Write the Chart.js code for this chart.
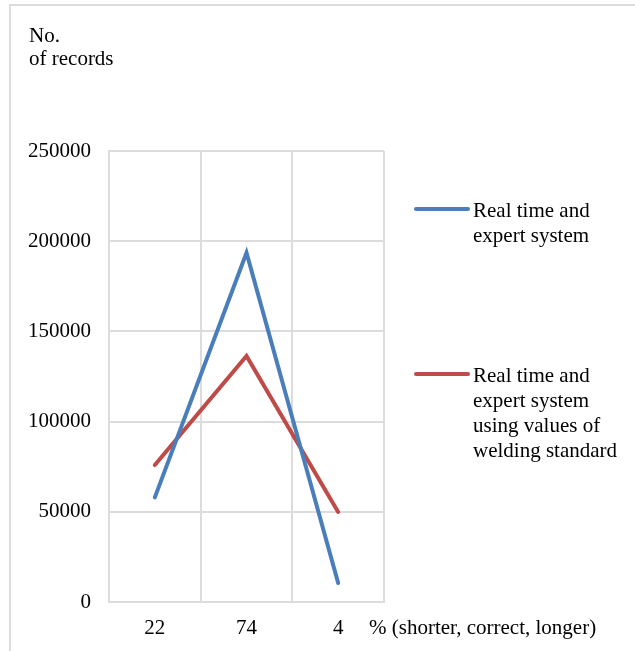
<!DOCTYPE html>
<html>
<head>
<meta charset="utf-8">
<script src="https://cdn.jsdelivr.net/npm/chart.js@4.4.1/dist/chart.umd.min.js"></script>
<style>
  body { margin: 0; background: #fff; }
  #frame {
    position: absolute; left: 9px; top: 4px; width: 700px; height: 700px;
    border-top: 2px solid #dcdcdc; border-left: 2px solid #dcdcdc;
  }
  #myChart { position: absolute; left: 0; top: 0; }
</style>
</head>
<body>
<div id="frame"></div>
<canvas id="myChart" width="635" height="651"></canvas>
<script>
const categories = ['22', '74', '4'];
const realTime = [58000, 193600, 10500];
const realTimeStandard = [75900, 136400, 49900];
const legendLines = [
    ['Real time and', 'expert system'],
    ['Real time and', 'expert system', 'using values of', 'welding standard']
];
const yTitle = ['No.', 'of records'];
const xTitle = '% (shorter, correct, longer)';
const FONT = "'Liberation Serif', 'Times New Roman', serif";

const textPlugin = {
    id: 'textPlugin',
    afterDraw(chart) {
        const ctx = chart.ctx;
        const area = chart.chartArea;
        ctx.save();
        ctx.fillStyle = '#000';
        ctx.font = '21px ' + FONT;
        ctx.textBaseline = 'alphabetic';
        ctx.textAlign = 'left';
        // y title
        ctx.fillText(yTitle[0], 29, 42);
        ctx.fillText(yTitle[1], 29, 65);
        // x title, next to the last tick label
        ctx.fillText(xTitle, area.right - 15, 634);
        // legend
        const tops = [209, 374];
        chart.data.datasets.forEach((ds, i) => {
            const y = tops[i];
            ctx.strokeStyle = ds.borderColor;
            ctx.lineWidth = 4;
            ctx.lineCap = 'round';
            ctx.beginPath();
            ctx.moveTo(416, y);
            ctx.lineTo(468, y);
            ctx.stroke();
            legendLines[i].forEach((line, j) => {
                ctx.fillText(line, 473, y + 8 + j * 25);
            });
        });
        ctx.restore();
    }
};

const ctx = document.getElementById('myChart').getContext('2d');
let myChart = new Chart(ctx, {
    type: 'line',
    data: {
        labels: categories,
        datasets: [{
            label: 'Real time and expert system',
            data: realTime,
            borderColor: '#4A7EBB',
            borderWidth: 4,
            borderCapStyle: 'round',
            pointRadius: 0,
            tension: 0,
            fill: false
        }, {
            label: 'Real time and expert system using values of welding standard',
            data: realTimeStandard,
            borderColor: '#BE4B48',
            borderWidth: 4,
            borderCapStyle: 'round',
            pointRadius: 0,
            tension: 0,
            fill: false
        }]
    },
    options: {
        responsive: false,
        animation: false,
        layout: { padding: { left: 0, top: 151, right: 251, bottom: 0 } },
        plugins: { legend: { display: false }, tooltip: { enabled: false } },
        scales: {
            x: {
                offset: true,
                grid: { offset: true, color: '#dcdcdc', lineWidth: 2, drawTicks: false },
                border: { color: '#dcdcdc', width: 2 },
                ticks: { color: '#000', font: { family: FONT, size: 21 }, padding: 14, maxRotation: 0 },
                afterFit(scale) { scale.height = 49; }
            },
            y: {
                min: 0,
                max: 250000,
                grid: { color: '#dcdcdc', lineWidth: 2, drawTicks: false },
                border: { color: '#dcdcdc', width: 2 },
                ticks: {
                    stepSize: 50000, color: '#000', font: { family: FONT, size: 21 }, padding: 18,
                    callback: (v) => String(v)
                },
                afterFit(scale) { scale.width = 109; }
            }
        }
    },
    plugins: [textPlugin]
});
</script>
</body>
</html>
